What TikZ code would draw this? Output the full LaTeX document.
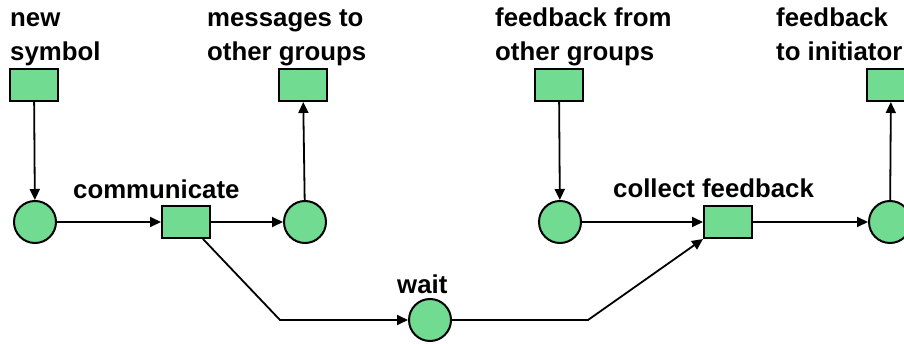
\documentclass[tikz,border=0pt]{standalone}
\usepackage{fontspec}
\setmainfont{Liberation Sans}
\usetikzlibrary{arrows.meta}
\definecolor{petri}{RGB}{112,219,145}
\tikzset{
  trans/.style={draw=black, line width=2pt, fill=petri, minimum width=48pt, minimum height=32pt, inner sep=0pt},
  place/.style={circle, draw=black, line width=2pt, fill=petri, minimum size=42pt, inner sep=0pt},
  lbl/.style={anchor=base west, inner sep=0pt, font=\fontsize{25.8}{30}\selectfont\bfseries},
  arc/.style={line width=1.8pt, -{Triangle[length=11pt,width=10pt]}},
}
\begin{document}
\begin{tikzpicture}[x=1pt,y=-1pt]
  \useasboundingbox (0,0) rectangle (904,344);
  \clip (0,0) rectangle (904,344);
  \fill[white] (0,0) rectangle (904,344);

  % labels
  \node[lbl] (tnew1) at (10,27) {new};
  \node[lbl] (tnew2) at (10,61) {symbol};
  \node[lbl] (tmsg1) at (207,27) {messages to};
  \node[lbl] (tmsg2) at (207,61) {other groups};
  \node[lbl] (tfb1) at (495,27) {feedback from};
  \node[lbl] (tfb2) at (495,61) {other groups};
  \node[lbl] (tini1) at (776,27) {feedback};
  \node[lbl] (tini2) at (776,61) {to initiator};
  \node[lbl] (tcomm) at (73,199) {communicate};
  \node[lbl] (tcoll) at (613,198) {collect feedback};
  \node[lbl] (twait) at (397,294) {wait};

  % transitions
  \node[trans] (newsym) at (34,85) {};
  \node[trans] (msgs) at (303,85) {};
  \node[trans] (fbin) at (559,85) {};
  \node[trans] (fbout) at (891,85) {};
  \node[trans] (comm) at (186,222) {};
  \node[trans] (coll) at (728,222) {};

  % places
  \node[place] (p1) at (35,222) {};
  \node[place] (p2) at (305,222) {};
  \node[place] (p3) at (560,222) {};
  \node[place] (p4) at (890,222) {};
  \node[place] (wait) at (430,320) {};

  % bends of the lower route
  \coordinate (b1) at (280,320);
  \coordinate (b2) at (588,320);

  % arcs
  \draw[arc] (newsym) -- (p1);
  \draw[arc] (p1) -- (comm);
  \draw[arc] (comm) -- (p2);
  \draw[arc] (p2) -- (msgs);
  \draw[arc] (fbin) -- (p3);
  \draw[arc] (p3) -- (coll);
  \draw[arc] (coll) -- (p4);
  \draw[arc] (p4) -- (fbout);
  \draw[arc] ([xshift=-8pt]comm.south east) -- (b1) -- (wait);
  \draw[arc] (wait) -- (b2) -- (coll.south west);
\end{tikzpicture}
\end{document}
